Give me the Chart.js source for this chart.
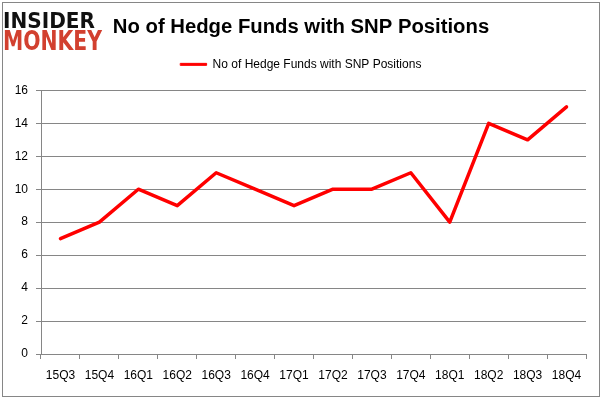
<!DOCTYPE html>
<html>
<head>
<meta charset="utf-8">
<title>No of Hedge Funds with SNP Positions</title>
<script src="https://cdn.jsdelivr.net/npm/chart.js@4"></script>
<style>
    html, body { margin: 0; padding: 0; background: #fff; }
    #wrap { position: relative; width: 602px; height: 398px; }
</style>
</head>
<body>
<div id="wrap"><canvas id="hfChart" width="602" height="398"></canvas></div>
<script>
// ---------------- data ----------------
const quarters = ['15Q3', '15Q4', '16Q1', '16Q2', '16Q3', '16Q4', '17Q1',
                  '17Q2', '17Q3', '17Q4', '18Q1', '18Q2', '18Q3', '18Q4'];
const hedgeFundCounts = [7, 8, 10, 9, 11, 10, 9, 10, 10, 11, 8, 14, 13, 15];
const seriesName = 'No of Hedge Funds with SNP Positions';
const chartTitle = 'No of Hedge Funds with SNP Positions';

const gridGray = '#868686';
const FONT = '"Liberation Sans", Arial, sans-serif';

// frame + logo, drawn on the canvas
const framePlugin = {
    id: 'frame',
    beforeDraw(chart) {
        const c = chart.ctx;
        c.save();
        c.fillStyle = '#fff';
        c.fillRect(0, 0, chart.width, chart.height);
        c.strokeStyle = gridGray;
        c.lineWidth = 1;
        c.strokeRect(2.5, 2.5, 597, 394);
        c.restore();
    },
    afterDraw(chart) {
        const c = chart.ctx;
        c.save();
        c.textBaseline = 'alphabetic';
        c.textAlign = 'left';
        c.font = 'bold 22px "DejaVu Sans", sans-serif';
        c.fillStyle = '#111';
        c.fillText('INSIDER', 3, 28, 92);
        c.font = 'bold 26px "DejaVu Sans", sans-serif';
        c.fillStyle = '#d2402f';
        c.fillText('MONKEY', 3, 50, 99);
        c.restore();
    }
};

// invisible axis used only to reserve space
function spacerAxis(position, size) {
    return {
        type: 'linear',
        position: position,
        grid: { display: false },
        border: { display: false },
        ticks: { display: false },
        afterFit(scale) {
            if (scale.isHorizontal()) scale.height = size;
            else scale.width = size;
        }
    };
}

const ctx = document.getElementById('hfChart').getContext('2d');
const hfChart = new Chart(ctx, {
    type: 'line',
    data: {
        labels: quarters,
        datasets: [{
            label: seriesName,
            data: hedgeFundCounts,
            borderColor: '#ff0000',
            backgroundColor: '#ff0000',
            borderWidth: 3.5,
            tension: 0,
            pointRadius: 0,
            pointHoverRadius: 0,
            borderCapStyle: 'round',
            borderJoinStyle: 'round',
            fill: false
        }]
    },
    options: {
        responsive: false,
        animation: false,
        devicePixelRatio: 1,
        layout: { padding: 0 },
        plugins: {
            title: {
                display: true,
                text: chartTitle,
                color: '#000',
                font: { family: FONT, size: 20.3, weight: 'bold' },
                padding: { top: 15, bottom: 1 }
            },
            legend: {
                display: true,
                position: 'top',
                labels: {
                    color: '#000',
                    font: { family: FONT, size: 12 },
                    boxWidth: 26,
                    boxHeight: 2,
                    padding: 18,
                    generateLabels(chart) {
                        // thin legend line instead of the dataset's thick stroke
                        return Chart.defaults.plugins.legend.labels.generateLabels(chart)
                            .map(item => Object.assign(item, { lineWidth: 1 }));
                    }
                }
            },
            tooltip: { enabled: false }
        },
        scales: {
            x: {
                offset: true,
                grid: {
                    display: true,
                    offset: true,
                    drawOnChartArea: false,
                    drawTicks: true,
                    tickLength: 5,
                    color: gridGray
                },
                border: { display: true, color: gridGray },
                ticks: {
                    color: '#000',
                    font: { family: FONT, size: 12 },
                    padding: 9,
                    maxRotation: 0,
                    autoSkip: false
                },
                afterFit(scale) { scale.height = 44; }
            },
            y: {
                min: 0,
                max: 16,
                ticks: {
                    stepSize: 2,
                    color: '#000',
                    font: { family: FONT, size: 12 },
                    padding: 8
                },
                grid: {
                    color: gridGray,
                    tickLength: 5
                },
                border: { display: true, color: gridGray },
                afterFit(scale) { scale.width = 41; }
            },
            // right spacer keeps title and legend centred on the canvas,
            // top spacer opens the gap under the legend
            spacerRight: spacerAxis('right', 16),
            spacerTop: spacerAxis('top', 10)
        }
    },
    plugins: [framePlugin]
});
</script>
</body>
</html>
